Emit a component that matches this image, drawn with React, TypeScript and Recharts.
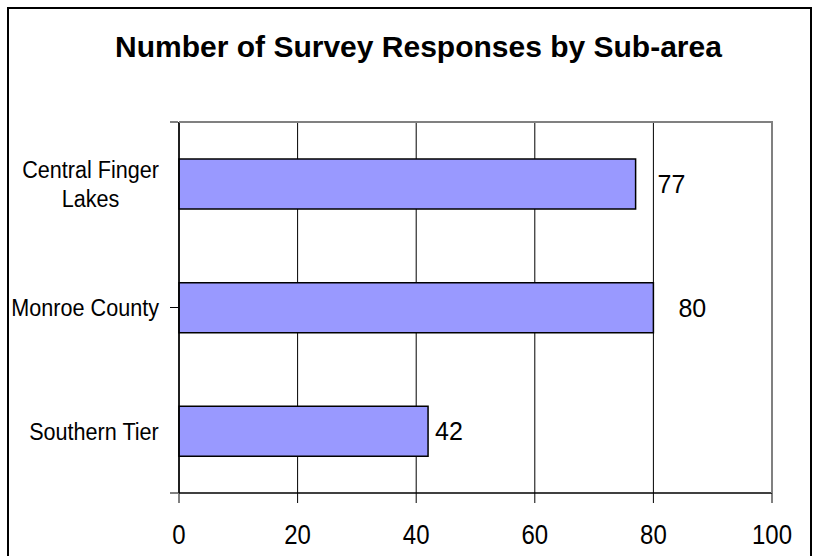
import React from "react";
import { BarChart, Bar, XAxis, YAxis, CartesianGrid, LabelList } from "recharts";

const categories = ["Central Finger Lakes", "Monroe County", "Southern Tier"];
const responses = [77, 80, 42];
const xTicks = [0, 20, 40, 60, 80, 100];
const bandTicks = [0, 1, 2, 3];
const title = "Number of Survey Responses by Sub-area";

const data = categories.map((c, i) => ({ name: c, value: responses[i] }));

const FONT = '"Liberation Sans", Arial, sans-serif';
const CAT_SIZE = 24;
const CAT_SCALE = 0.9;
const LINE_H = 29;
const LABEL_GAPS = [22, 25, 7];
const AXIS_X = 179;

let ctx: CanvasRenderingContext2D | null = null;
const measure = (s: string) => {
  if (!ctx) ctx = document.createElement("canvas").getContext("2d");
  if (!ctx) return s.length * CAT_SIZE * 0.55;
  ctx.font = `${CAT_SIZE}px ${FONT}`;
  return ctx.measureText(s).width * CAT_SCALE;
};

const wrap = (s: string, maxW: number) => {
  const words = s.split(" ");
  const lines: string[] = [];
  let cur = "";
  for (const w of words) {
    const t = cur ? cur + " " + w : w;
    if (cur && measure(t) > maxW) {
      lines.push(cur);
      cur = w;
    } else cur = t;
  }
  if (cur) lines.push(cur);
  return lines;
};

const CatTick = (props: any) => {
  const { y, payload } = props;
  const lines = wrap(String(payload.value), 152);
  const maxW = Math.max(...lines.map(measure));
  const right = AXIS_X - 20;
  const cx = right - maxW / 2;
  const first = y - ((lines.length - 1) * LINE_H) / 2 + 8.5;
  return (
    <g>
      {lines.map((l, i) => (
        <text
          key={i}
          transform={`translate(${cx},${first + i * LINE_H}) scale(${CAT_SCALE},1.03)`}
          textAnchor="middle"
          fontSize={CAT_SIZE}
          fontFamily={FONT}
          fill="#000"
        >
          {l}
        </text>
      ))}
    </g>
  );
};

const XTick = (props: any) => {
  const { x, payload } = props;
  return (
    <text
      transform={`translate(${x},544) scale(1,1.15)`}
      textAnchor="middle"
      fontSize={24}
      fontFamily={FONT}
      fill="#000"
    >
      {payload.value}
    </text>
  );
};

const EmptyTick = () => <g />;

const renderLabel = (props: any) => {
  const { x, y, width, height, value, index } = props;
  const gap = LABEL_GAPS[index ?? 0] ?? 10;
  return (
    <text
      x={Number(x) + Number(width) + gap}
      y={Number(y) + Number(height) / 2 + 9}
      textAnchor="start"
      fontSize={25}
      fontFamily={FONT}
      fill="#000"
    >
      {value}
    </text>
  );
};

export default function App() {
  return (
    <div
      style={{
        position: "absolute",
        left: 0,
        top: 0,
        width: 818,
        height: 556,
        overflow: "hidden",
        background: "#fff",
        fontFamily: FONT,
      }}
    >
      <BarChart
        width={818}
        height={556}
        data={data}
        layout="vertical"
        margin={{ top: 122, right: 46, bottom: 62, left: 177 }}
      >
        <CartesianGrid horizontal={false} vertical stroke="#000" strokeWidth={1} />
        <XAxis
          type="number"
          domain={[0, 100]}
          ticks={xTicks}
          height={1}
          tickSize={10}
          tickMargin={0}
          axisLine={{ stroke: "#000", strokeWidth: 1.5 }}
          tickLine={{ stroke: "#000", strokeWidth: 1 }}
          tick={XTick}
          interval={0}
        />
        <YAxis
          type="category"
          dataKey="name"
          width={1}
          tickSize={0}
          tickMargin={0}
          tickLine={false}
          axisLine={{ stroke: "#000", strokeWidth: 1.5 }}
          tick={CatTick}
          interval={0}
        />
        <YAxis
          yAxisId="b"
          type="number"
          domain={[0, 3]}
          ticks={bandTicks}
          allowDataOverflow
          width={1}
          axisLine={false}
          tickSize={8}
          tickLine={{ stroke: "#000", strokeWidth: 1 }}
          tick={EmptyTick}
          interval={0}
        />
        <Bar
          dataKey="value"
          fill="#9999FF"
          stroke="#000"
          strokeWidth={1.5}
          barSize={50}
          isAnimationActive={false}
        >
          <LabelList dataKey="value" content={renderLabel} />
        </Bar>
      </BarChart>
      <div
        style={{
          position: "absolute",
          left: 179,
          top: 121,
          width: 594,
          height: 372,
          boxSizing: "border-box",
          borderTop: "2px solid #808080",
          borderRight: "2px solid #808080",
          pointerEvents: "none",
        }}
      />
      <svg
        width={818}
        height={90}
        style={{ position: "absolute", left: 0, top: 0, pointerEvents: "none" }}
      >
        <text x={418.5} y={57} textAnchor="middle" fontSize={30} fontWeight="bold" fontFamily={FONT} fill="#000">
          {title}
        </text>
      </svg>
      <div
        style={{
          position: "absolute",
          left: 7,
          top: 7,
          width: 805,
          height: 600,
          boxSizing: "border-box",
          border: "2px solid #000",
          pointerEvents: "none",
        }}
      />
    </div>
  );
}
